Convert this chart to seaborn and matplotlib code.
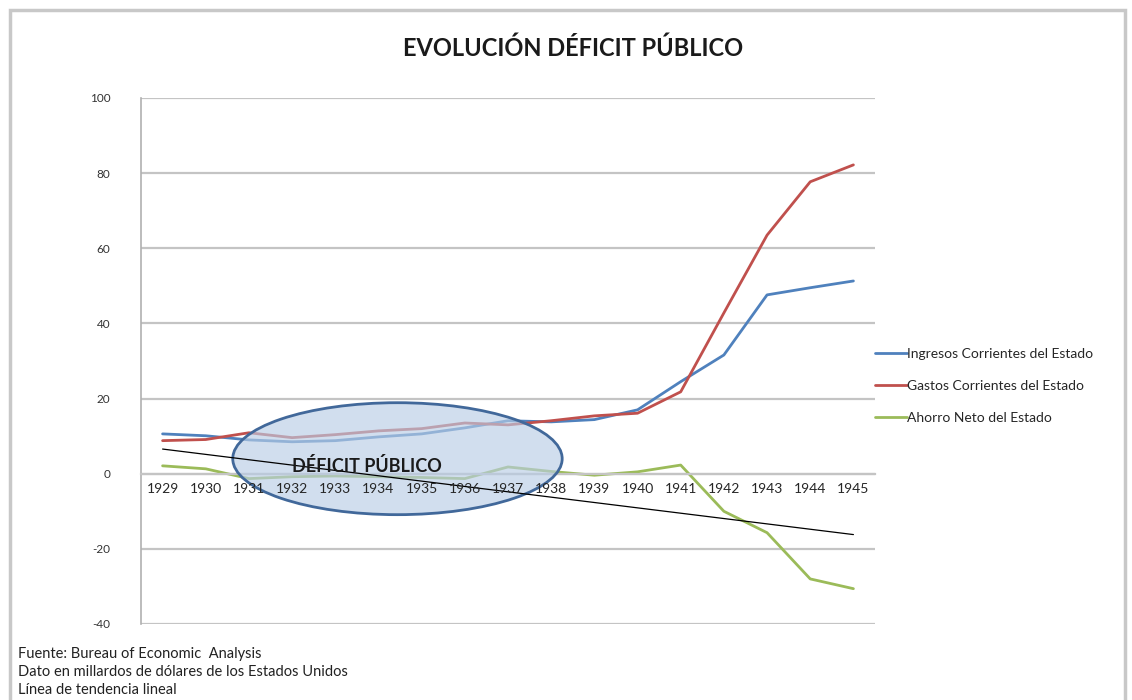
import numpy as np
import pandas as pd
import matplotlib
matplotlib.use("Agg")
import matplotlib.pyplot as plt
import seaborn as sns
from matplotlib.patches import Ellipse, Rectangle

years = list(range(1929, 1946))
ingresos = [10.6, 10.1, 9.0, 8.5, 8.8, 9.8, 10.6, 12.2, 14.1, 13.8, 14.4, 17.0, 24.5, 31.6, 47.6, 49.5, 51.3]
gastos = [8.8, 9.1, 10.9, 9.6, 10.4, 11.4, 12.0, 13.5, 13.0, 14.1, 15.4, 16.1, 21.8, 42.8, 63.5, 77.7, 82.2]
ahorro = [2.1, 1.3, -1.3, -0.8, -0.6, -0.8, -1.0, -1.3, 1.8, 0.6, -0.4, 0.5, 2.3, -10.0, -15.7, -28.0, -30.6]
series_names = ["Ingresos Corrientes del Estado", "Gastos Corrientes del Estado", "Ahorro Neto del Estado"]
colors = ["#4f81bd", "#c0504d", "#9bbb59"]
yticks = [-40, -20, 0, 20, 40, 60, 80, 100]
title = "EVOLUCIÓN DÉFICIT PÚBLICO"
notes = ["Fuente: Bureau of Economic  Analysis",
         "Dato en millardos de dólares de los Estados Unidos",
         "Línea de tendencia lineal"]
ellipse_label = "DÉFICIT PÚBLICO"

sns.set_style("white")
plt.rcParams['font.family'] = ['Lato', 'DejaVu Sans']

df = pd.DataFrame({
    "year": years * 3,
    "value": ingresos + gastos + ahorro,
    "serie": [series_names[0]] * len(years) + [series_names[1]] * len(years) + [series_names[2]] * len(years),
})

fig = plt.figure(figsize=(11.32, 7.0), dpi=100)
ax = fig.add_axes([141 / 1132, 76 / 700, 734 / 1132, 526 / 700])

for yv in yticks:
    ax.axhline(yv, color="#c4c4c4", lw=1.6, zorder=0)

sns.lineplot(data=df, x="year", y="value", hue="serie", palette=colors,
             hue_order=series_names, lw=2.0, ax=ax, zorder=2)

# linear trend of Ahorro
coef = np.polyfit(years, ahorro, 1)
trend = np.polyval(coef, years)
ax.plot(years, trend, color="black", lw=0.9, zorder=4)

# ellipse annotation
ell = Ellipse((1934.44, 4.0), width=7.63, height=29.8, facecolor="#b9cde5",
              alpha=0.65, edgecolor="none", zorder=3)
ax.add_patch(ell)
ell_edge = Ellipse((1934.44, 4.0), width=7.63, height=29.8, facecolor="none",
                   edgecolor="#41689a", lw=2.0, zorder=3.1)
ax.add_patch(ell_edge)
ax.text(1933.72, 2.1, ellipse_label, fontsize=13, fontweight="bold",
        ha="center", va="center", color="#1a1a1a", zorder=5)

ax.set_xlim(1928.5, 1945.5)
ax.set_ylim(-40, 100)
ax.set_xticks(years)
ax.set_xticklabels([str(y) for y in years], fontsize=8.5, color="#333333")
ax.set_yticks(yticks)
ax.set_yticklabels([str(y) for y in yticks], fontsize=8.5, color="#333333")
ax.tick_params(axis="both", length=0)
ax.tick_params(axis="x", pad=7)
ax.tick_params(axis="y", pad=22)
ax.spines["bottom"].set_position(("data", 0))
ax.spines["bottom"].set_color("#c4c4c4")
ax.spines["bottom"].set_linewidth(1.6)
ax.spines["left"].set_color("#b0b0b0")
ax.spines["left"].set_linewidth(1.2)
ax.spines["top"].set_visible(False)
ax.spines["right"].set_visible(False)
ax.xaxis.set_zorder(6)
ax.set_xlabel("")
ax.set_ylabel("")

leg = ax.legend(loc="upper left", bbox_to_anchor=(868 / 1132, 1 - 341 / 700),
                bbox_transform=fig.transFigure, frameon=False, fontsize=10,
                handlelength=2.3, handletextpad=0.0, labelspacing=1.45, borderpad=0)
for line in leg.get_lines():
    line.set_linewidth(2.0)

fig.text(573 / 1132, 1 - 48 / 700, title, ha="center", va="center",
         fontsize=17, fontweight="bold", color="#1a1a1a")

for i, note in enumerate(notes):
    fig.text(18 / 1132, 1 - (654 + 18 * i) / 700, note, ha="left", va="center",
             fontsize=10.5, color="#222222")

fig.patches.append(Rectangle((10 / 1132, -0.05), (1125 - 10) / 1132, 1 - 10 / 700 + 0.05,
                             transform=fig.transFigure, fill=False,
                             edgecolor="#c8c8c8", lw=2.5))

fig.savefig("out.png", dpi=100, facecolor="white")
